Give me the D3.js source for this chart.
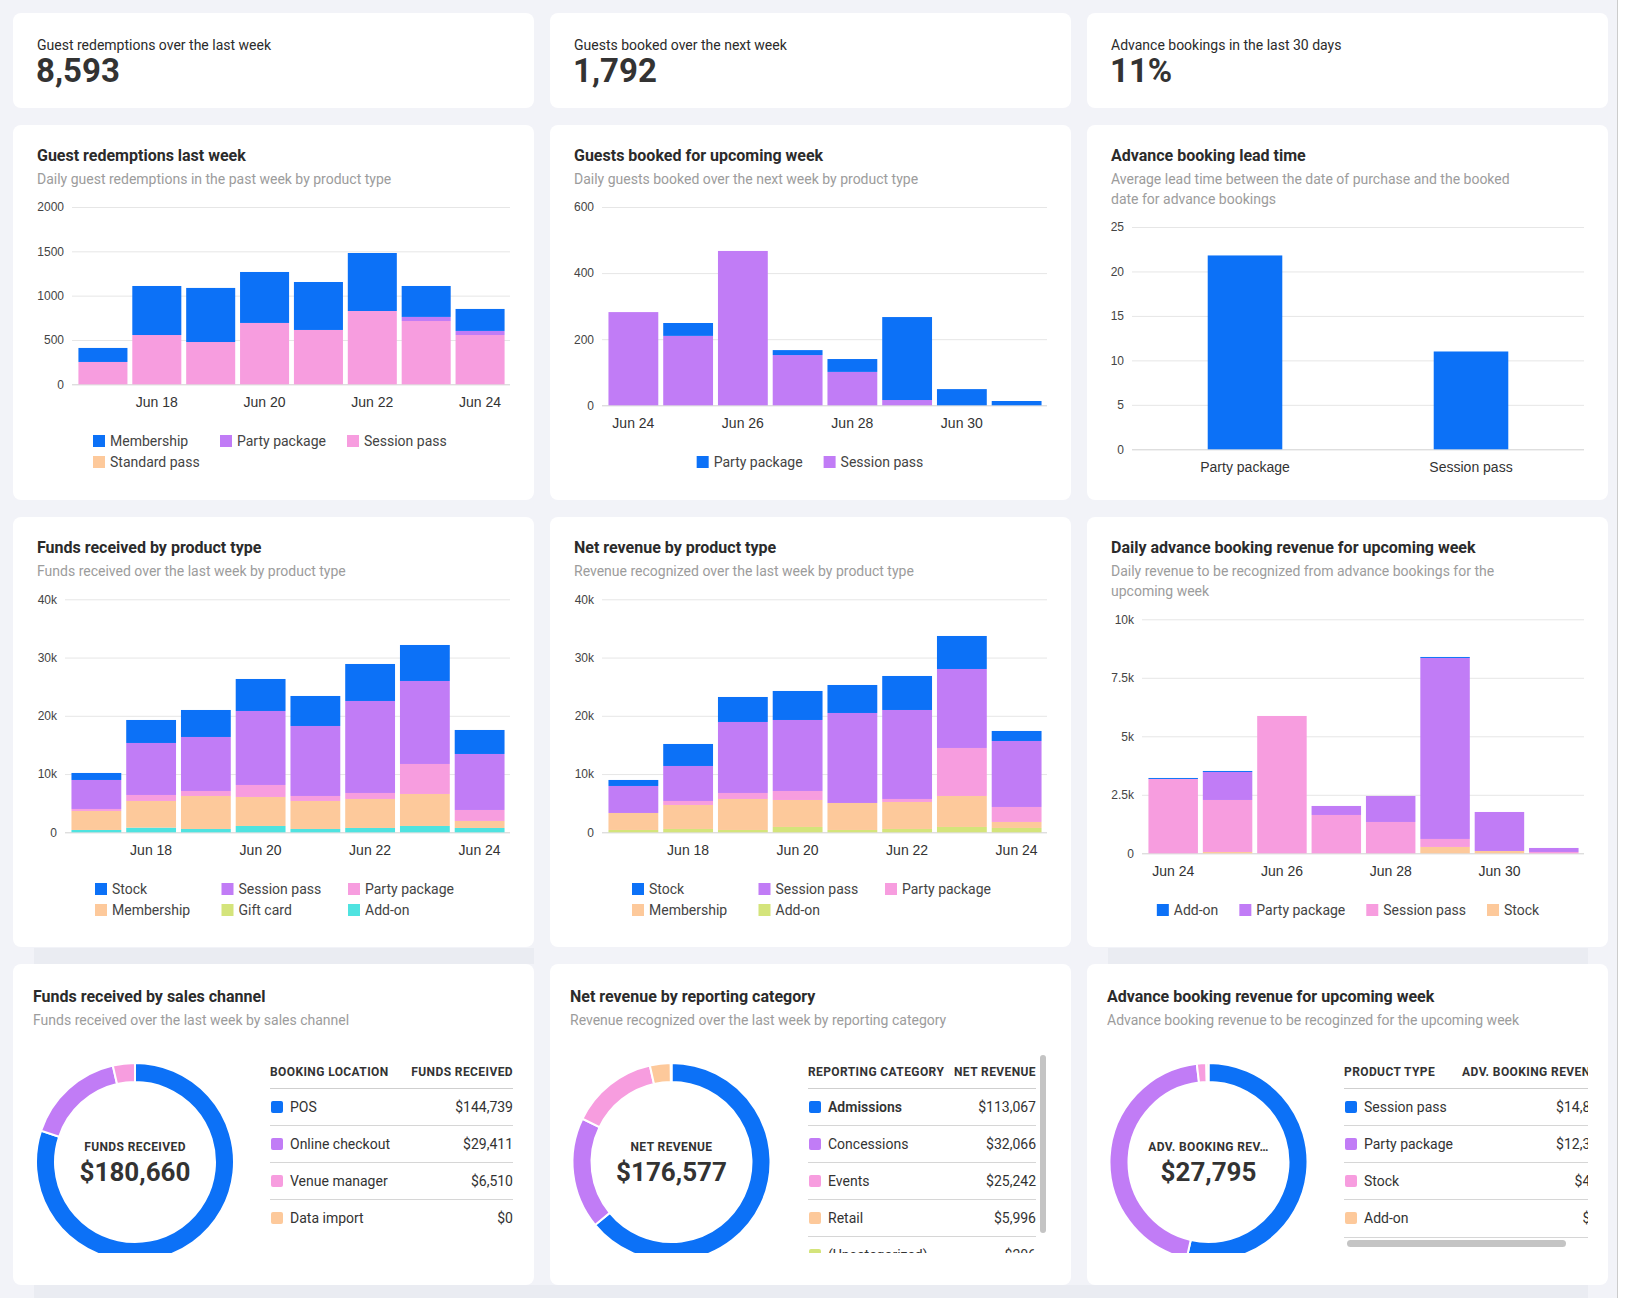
<!DOCTYPE html>
<html lang="en">
<head>
<meta charset="UTF-8">
<title>Venue dashboard</title>
<script src="https://cdn.jsdelivr.net/npm/d3@7"></script>
<style>
    body { margin: 0; background: #f2f3f8; }
    svg { display: block; font-family: Roboto, 'Noto Sans', sans-serif; }
</style>
</head>
<body>
<script>
'use strict';

// ---- data ----
var kpiLabels = ['Guest redemptions over the last week', 'Guests booked over the next week', 'Advance bookings in the last 30 days'];
var kpiValues = ['8,593', '1,792', '11%'];

var pastDays = ['Jun 17', 'Jun 18', 'Jun 19', 'Jun 20', 'Jun 21', 'Jun 22', 'Jun 23', 'Jun 24'];
var nextDays = ['Jun 24', 'Jun 25', 'Jun 26', 'Jun 27', 'Jun 28', 'Jun 29', 'Jun 30', 'Jul 1'];
var pastLabels = ['Jun 18', 'Jun 20', 'Jun 22', 'Jun 24'];
var nextLabels = ['Jun 24', 'Jun 26', 'Jun 28', 'Jun 30'];

// guest redemptions last week
var redMembership = [158, 553, 610, 575, 541, 654, 349, 248];
var redParty = [0, 0, 0, 0, 0, 0, 46, 46];
var redSession = [252, 556, 477, 692, 613, 827, 714, 556];
var redStandard = [0, 0, 0, 0, 0, 0, 0, 0];
var redTicks = [0, 500, 1000, 1500, 2000];

// guests booked for upcoming week
var bookParty = [0, 39, 0, 15, 39, 251, 49, 13];
var bookSession = [282, 210, 467, 152, 101, 16, 0, 0];
var bookTicks = [0, 200, 400, 600];

// lead time (days)
var leadCats = ['Party package', 'Session pass'];
var leadValues = [21.8, 11.0];
var leadTicks = [0, 5, 10, 15, 20, 25];

// funds received by product type
var fundsStock = [1201, 3948, 4635, 5493, 5150, 6351, 6180, 4120];
var fundsSession = [4979, 8926, 9270, 12703, 12016, 15793, 14248, 9613];
var fundsParty = [343, 1030, 858, 2060, 858, 1030, 5150, 1888];
var fundsMembership = [3262, 4578, 5665, 4978, 4807, 4978, 5493, 1202];
var fundsGift = [0, 0, 0, 0, 0, 0, 0, 0];
var fundsAddon = [400, 801, 572, 1087, 572, 744, 1087, 744];

// net revenue by product type
var netStock = [1030, 3776, 4291, 4978, 4806, 5836, 5665, 1717];
var netSession = [4635, 6008, 12188, 12188, 15450, 15278, 13561, 11329];
var netParty = [0, 687, 1030, 1545, 0, 515, 8240, 2575];
var netMembership = [2919, 4120, 5322, 4634, 4635, 4635, 5321, 1030];
var netAddon = [400, 572, 400, 916, 400, 572, 916, 744];
var moneyTicks = [0, 10000, 20000, 30000, 40000];

// daily advance booking revenue
var advAddon = [42, 42, 0, 0, 0, 42, 0, 0];
var advParty = [0, 1197, 0, 385, 1111, 7735, 1666, 171];
var advSession = [3177, 2222, 5869, 1638, 1339, 342, 0, 57];
var advStock = [0, 57, 0, 0, 0, 271, 100, 0];
var advTicks = [0, 2500, 5000, 7500, 10000];

// donuts
var channelNames = ['POS', 'Online checkout', 'Venue manager', 'Data import'];
var channelValues = [144739, 29411, 6510, 0];
var categoryNames = ['Admissions', 'Concessions', 'Events', 'Retail', '(Uncategorized)'];
var categoryValues = [113067, 32066, 25242, 5996, 206];
var advProductNames = ['Session pass', 'Party package', 'Stock', 'Add-on'];
var advProductValues = [14886, 12384, 428, 97];

var palette = ['#0c71f7', '#c17cf6', '#f79ddf', '#fdc99b', '#d4e47b', '#4fe3e0'];

// ---- page ----
var W = 1625, H = 1298;
var colX = [13, 550, 1087], colW = 521;
var svg = d3.select('body').append('svg').attr('width', W).attr('height', H);
var defs = svg.append('defs');

svg.append('rect').attr('width', W).attr('height', H).attr('fill', '#f2f3f8');
// scroll strips of the lower container
svg.append('rect').attr('x', 34).attr('y', 948).attr('width', 500).attr('height', 16).attr('fill', '#eaecf2');
svg.append('rect').attr('x', 1108).attr('y', 948).attr('width', 480).attr('height', 16).attr('fill', '#eaecf2');
svg.append('rect').attr('x', 34).attr('y', 1285).attr('width', 1554).attr('height', 13).attr('fill', '#eaecf2');
svg.append('rect').attr('x', 1617).attr('y', 0).attr('width', 1).attr('height', H).attr('fill', '#cccccc');
svg.append('rect').attr('x', 1618).attr('y', 0).attr('width', 7).attr('height', H).attr('fill', '#ffffff');

function card(x, y, w, h) {
    svg.append('rect').attr('x', x).attr('y', y).attr('width', w).attr('height', h)
        .attr('rx', 8).attr('fill', '#fff');
}

function heading(x, yBase, title, subLines) {
    svg.append('text').attr('x', x).attr('y', yBase).text(title)
        .attr('font-size', 16).attr('font-weight', 700).attr('fill', '#2b2b2b');
    subLines.forEach(function(s, i) {
        svg.append('text').attr('x', x).attr('y', yBase + 23 + i * 20).text(s)
            .attr('font-size', 14).attr('fill', '#9c9c9c');
    });
}

// KPI row
kpiLabels.forEach(function(l, i) {
    card(colX[i], 13, colW, 95);
    svg.append('text').attr('x', colX[i] + 24).attr('y', 50).text(l)
        .attr('font-size', 14).attr('fill', '#2b2b2b');
    svg.append('text').attr('x', colX[i] + 23).attr('y', 82).text(kpiValues[i])
        .attr('font-size', 33).attr('font-weight', 700).attr('fill', '#333');
});

// card rows
[0, 1, 2].forEach(function(i) {
    card(colX[i], 125, colW, 375);
    card(colX[i], 517, colW, 430);
    card(colX[i], 964, colW, 321);
});

heading(37, 161, 'Guest redemptions last week', ['Daily guest redemptions in the past week by product type']);
heading(574, 161, 'Guests booked for upcoming week', ['Daily guests booked over the next week by product type']);
heading(1111, 161, 'Advance booking lead time', ['Average lead time between the date of purchase and the booked', 'date for advance bookings']);
heading(37, 553, 'Funds received by product type', ['Funds received over the last week by product type']);
heading(574, 553, 'Net revenue by product type', ['Revenue recognized over the last week by product type']);
heading(1111, 553, 'Daily advance booking revenue for upcoming week', ['Daily revenue to be recognized from advance bookings for the', 'upcoming week']);
heading(33, 1002, 'Funds received by sales channel', ['Funds received over the last week by sales channel']);
heading(570, 1002, 'Net revenue by reporting category', ['Revenue recognized over the last week by reporting category']);
heading(1107, 1002, 'Advance booking revenue for upcoming week', ['Advance booking revenue to be recoginzed for the upcoming week']);

// ---- legends ----
function legend(names, colors, o) {
    var g = svg.append('g').attr('font-size', 14).attr('fill', '#444');
    var items = g.selectAll('g').data(names).enter().append('g');
    items.append('rect').attr('width', 12).attr('height', 12).attr('y', -6)
        .attr('fill', function(d, i) { return colors[i]; });
    items.append('text').attr('x', 17).attr('dy', '0.35em').text(function(d) { return d; });
    if (o.perRow) {
        items.attr('transform', function(d, i) {
            return 'translate(' + (o.x0 + (i % o.perRow) * o.step) + ',' + (o.y + Math.floor(i / o.perRow) * 21) + ')';
        });
    } else {
        var widths = [];
        items.selectAll('text').each(function() { widths.push(17 + this.getComputedTextLength()); });
        var total = d3.sum(widths) + 21 * (widths.length - 1);
        var cur = o.cx - total / 2;
        items.attr('transform', function(d, i) {
            var t = 'translate(' + cur + ',' + o.y + ')';
            cur += widths[i] + 21;
            return t;
        });
    }
}

// ---- stacked bars ----
function barChart(o) {
    var g = svg.append('g').attr('font-family', 'Roboto, "Noto Sans", sans-serif');
    var gx1 = o.cardX + 497;
    var y = d3.scaleLinear().domain([0, o.max]).range([o.y0, o.y1]);
    var x = d3.scaleBand().domain(o.cats)
        .range(o.range || [o.gx0 + 4, o.cardX + 494])
        .paddingInner(o.pi || 0.09).paddingOuter(o.po || 0.045);

    var ya = g.append('g').attr('transform', 'translate(' + o.gx0 + ',0)')
        .call(d3.axisLeft(y).tickValues(o.ticks).tickFormat(o.fmt)
            .tickSizeInner(-(gx1 - o.gx0)).tickSizeOuter(0).tickPadding(8));
    ya.select('.domain').remove();
    ya.selectAll('line').attr('stroke', function(d) { return d === 0 ? '#d0d0d0' : '#e6e6e6'; });
    ya.selectAll('text').attr('fill', '#444').attr('font-size', 12);

    var names = o.series.map(function(s) { return s.name; });
    var rows = o.cats.map(function(c, i) {
        var r = { cat: c };
        o.series.forEach(function(s) { r[s.name] = s.values[i]; });
        return r;
    });
    var layers = d3.stack().keys(names.slice().reverse())(rows);
    var color = d3.scaleOrdinal().domain(names).range(palette);

    g.append('g').selectAll('g').data(layers).enter().append('g')
        .attr('fill', function(d) { return color(d.key); })
        .selectAll('rect').data(function(d) { return d; }).enter().append('rect')
        .attr('x', function(d) { return x(d.data.cat); })
        .attr('width', x.bandwidth())
        .attr('y', function(d) { return y(d[1]); })
        .attr('height', function(d) { return y(d[0]) - y(d[1]); });

    var xa = g.append('g').attr('transform', 'translate(0,' + o.y0 + ')')
        .call(d3.axisBottom(x).tickValues(o.labels).tickSize(0).tickPadding(13));
    xa.select('.domain').remove();
    xa.selectAll('text').attr('fill', '#333').attr('font-size', 14);

    if (o.legend) legend(names, palette, o.legend);
}

var fmtK = d3.format('~s');

barChart({
    cardX: 13, gx0: 72, y0: 384.3, y1: 207, max: 2000, ticks: redTicks, fmt: d3.format('d'),
    cats: pastDays, labels: pastLabels,
    series: [{ name: 'Membership', values: redMembership }, { name: 'Party package', values: redParty },
        { name: 'Session pass', values: redSession }, { name: 'Standard pass', values: redStandard }],
    legend: { perRow: 3, x0: 93, step: 127, y: 441 }
});

barChart({
    cardX: 550, gx0: 602, y0: 405.3, y1: 207, max: 600, ticks: bookTicks, fmt: d3.format('d'),
    cats: nextDays, labels: nextLabels,
    series: [{ name: 'Party package', values: bookParty }, { name: 'Session pass', values: bookSession }],
    legend: { cx: 810, y: 462 }
});

barChart({
    cardX: 1087, gx0: 1132, y0: 449.3, y1: 227, max: 25, ticks: leadTicks, fmt: d3.format('d'),
    cats: leadCats, labels: leadCats, range: [1132, 1584], pi: 0.67, po: 0.335,
    series: [{ name: 'Lead time', values: leadValues }]
});

barChart({
    cardX: 13, gx0: 65, y0: 832.3, y1: 599.3, max: 40000, ticks: moneyTicks, fmt: fmtK,
    cats: pastDays, labels: pastLabels,
    series: [{ name: 'Stock', values: fundsStock }, { name: 'Session pass', values: fundsSession },
        { name: 'Party package', values: fundsParty }, { name: 'Membership', values: fundsMembership },
        { name: 'Gift card', values: fundsGift }, { name: 'Add-on', values: fundsAddon }],
    legend: { perRow: 3, x0: 95, step: 126.5, y: 889 }
});

barChart({
    cardX: 550, gx0: 602, y0: 832.3, y1: 599.3, max: 40000, ticks: moneyTicks, fmt: fmtK,
    cats: pastDays, labels: pastLabels,
    series: [{ name: 'Stock', values: netStock }, { name: 'Session pass', values: netSession },
        { name: 'Party package', values: netParty }, { name: 'Membership', values: netMembership },
        { name: 'Add-on', values: netAddon }],
    legend: { perRow: 3, x0: 632, step: 126.5, y: 889 }
});

barChart({
    cardX: 1087, gx0: 1142, y0: 853.3, y1: 619.3, max: 10000, ticks: advTicks, fmt: fmtK,
    cats: nextDays, labels: nextLabels,
    series: [{ name: 'Add-on', values: advAddon }, { name: 'Party package', values: advParty },
        { name: 'Session pass', values: advSession }, { name: 'Stock', values: advStock }],
    legend: { cx: 1348, y: 910 }
});

// ---- donuts with tables ----
var money = d3.format('$,.0f');

function donut(o) {
    var clipId = 'clip' + o.id;
    defs.append('clipPath').attr('id', clipId).append('rect')
        .attr('x', o.clipX0).attr('y', 1030).attr('width', o.clipX1 - o.clipX0).attr('height', 223);
    var g = svg.append('g').attr('clip-path', 'url(#' + clipId + ')');

    var arcs = d3.pie().sort(null).value(function(d) { return d; })(o.values);
    var arc = d3.arc().innerRadius(80).outerRadius(99);
    g.append('g').attr('transform', 'translate(' + o.cx + ',' + o.cy + ')')
        .selectAll('path').data(arcs).enter().append('path')
        .attr('d', arc)
        .attr('fill', function(d, i) { return palette[i]; })
        .attr('stroke', '#fff').attr('stroke-width', 2);

    g.append('text').attr('x', o.cx).attr('y', o.cy - 11).attr('text-anchor', 'middle')
        .attr('font-size', 12).attr('font-weight', 700).attr('letter-spacing', 0.4)
        .attr('fill', '#333').text(o.label);
    g.append('text').attr('x', o.cx).attr('y', o.cy + 19).attr('text-anchor', 'middle')
        .attr('font-size', 26).attr('font-weight', 700).attr('fill', '#333')
        .text(money(d3.sum(o.values)));

    // table
    var t = g.append('g').attr('font-size', 14).attr('fill', '#333');
    t.append('text').attr('x', o.x0).attr('y', 1076).text(o.h1)
        .attr('font-size', 12).attr('font-weight', 700).attr('letter-spacing', 0.4);
    t.append('text').attr('x', o.x1).attr('y', 1076).attr('text-anchor', 'end').text(o.h2)
        .attr('font-size', 12).attr('font-weight', 700).attr('letter-spacing', 0.4);
    t.append('rect').attr('x', o.x0).attr('y', 1088).attr('width', o.x1 - o.x0).attr('height', 1).attr('fill', '#cfcfcf');

    o.names.forEach(function(n, i) {
        var cy = 1107 + i * 37;
        if (i > 0) {
            t.append('rect').attr('x', o.x0).attr('y', cy - 19)
                .attr('width', o.x1 - o.x0).attr('height', 1).attr('fill', '#d6d6d6');
        }
        t.append('rect').attr('x', o.x0 + 1).attr('y', cy - 6).attr('width', 12).attr('height', 12)
            .attr('rx', 2).attr('fill', palette[i]);
        t.append('text').attr('x', o.x0 + 20).attr('y', cy).attr('dy', '0.35em').text(n)
            .attr('font-weight', (o.boldFirst && i === 0) ? 600 : 400);
        t.append('text').attr('x', o.x1).attr('y', cy).attr('dy', '0.35em').attr('text-anchor', 'end')
            .text(money(o.values[i]));
    });
}

donut({
    id: 1, cx: 135, cy: 1162, clipX0: 13, clipX1: 534, label: 'FUNDS RECEIVED',
    names: channelNames, values: channelValues, x0: 270, x1: 513,
    h1: 'BOOKING LOCATION', h2: 'FUNDS RECEIVED'
});
donut({
    id: 2, cx: 671.5, cy: 1162, clipX0: 550, clipX1: 1038, label: 'NET REVENUE',
    names: categoryNames, values: categoryValues, x0: 808, x1: 1036, boldFirst: true,
    h1: 'REPORTING CATEGORY', h2: 'NET REVENUE'
});
donut({
    id: 3, cx: 1208.5, cy: 1162, clipX0: 1087, clipX1: 1588, label: 'ADV. BOOKING REV\u2026',
    names: advProductNames, values: advProductValues, x0: 1344, x1: 1606,
    h1: 'PRODUCT TYPE', h2: 'ADV. BOOKING REVENUE'
});

// scrollbars of the tables
svg.append('rect').attr('x', 1040).attr('y', 1055).attr('width', 6).attr('height', 178)
    .attr('rx', 3).attr('fill', '#c4c4c4');
svg.append('rect').attr('x', 1344).attr('y', 1237).attr('width', 244).attr('height', 1).attr('fill', '#d6d6d6');
svg.append('rect').attr('x', 1347).attr('y', 1240).attr('width', 219).attr('height', 7)
    .attr('rx', 3.5).attr('fill', '#c4c4c4');
</script>
</body>
</html>
